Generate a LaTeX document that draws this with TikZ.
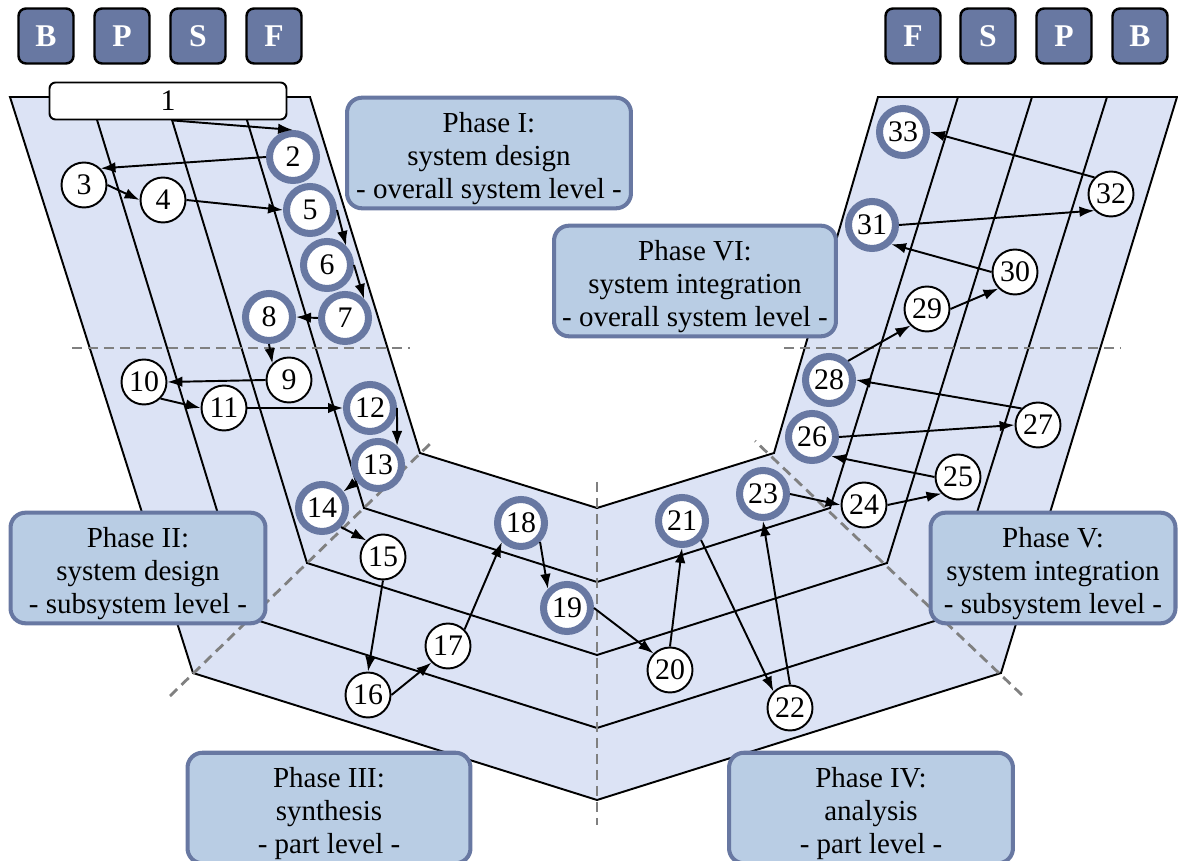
\documentclass[tikz,border=0pt]{standalone}
\usepackage{fontspec}
\setmainfont{Liberation Serif}
\usetikzlibrary{arrows.meta, calc}
\definecolor{bandfill}{RGB}{220,227,245}
\definecolor{slate}{RGB}{104,120,162}
\definecolor{phasefill}{RGB}{185,205,228}
\definecolor{dashgray}{RGB}{128,128,128}
\newcommand{\phaselines}[3]{\rule{0pt}{18pt}#1\\#2\\#3}
\tikzset{
>={Latex[length=8.5pt,width=6pt]}, % filled arrow heads
every edge/.style={draw, line width=1.1pt}, % plain black connectors
band line/.style={line width=1.1pt}, % outline and dividers of the V
phase border/.style={dashgray, line width=1.6pt, dash pattern=on 5.7pt off 3.4pt},
phase/.style={draw=slate, line width=2.3pt, fill=phasefill, rounded corners=0.3cm, align=center, minimum height=2.2cm, inner sep=2pt, font=\fontsize{16.5}{18.7}\selectfont},
column/.style={draw, line width=1.4pt, fill=slate, rounded corners=0.15cm, minimum size=1.1cm, text=white, font=\fontsize{18}{18}\selectfont\bfseries},
stepnode/.style={circle, draw, line width=1.1pt, fill=white, minimum size=0.9cm, inner sep=0pt, font=\fontsize{17}{17}\selectfont},
keystep/.style={stepnode, draw=slate, line width=4pt, minimum size=0.94cm},
startstep/.style={draw, line width=1.1pt, fill=white, rounded corners=0.12cm, minimum width=4.74cm, minimum height=0.74cm, font=\fontsize{17}{17}\selectfont},
}

\begin{document}
\begin{tikzpicture}[x=0.02cm, y=-0.02cm]
  \useasboundingbox (0,0) rectangle (1178,861);

  % The V
  \fill[bandfill] (10,97) -- (193,673) -- (597,800) -- (1001,673) -- (1177,97) -- (878,97)
    -- (774,453) -- (597,508) -- (420,453) -- (310,97) -- cycle;
  \draw[band line] (10,97) -- (193,673) -- (597,800) -- (1001,673) -- (1177,97) -- (878,97)
    -- (774,453) -- (597,508) -- (420,453) -- (310,97) -- cycle;
  \foreach \tl/\cl/\cy/\m/\cr/\tr in {90/250/618/728/944/1107, 165/307/563/655/887/1032, 240/364/508/582/830/958}
    \draw[band line] (\tl,97) -- (\cl,\cy) -- (597,\m) -- (\cr,\cy) -- (\tr,97);

  % Phase borders
  \draw[phase border] (72,348) -- (410,348);
  \draw[phase border] (784,348) -- (1120,348);
  \draw[phase border] (170,696) -- (433,441);
  \draw[phase border] (1022,695) -- (755,441);
  \draw[phase border] (597,482) -- (597,825);

  % Phases
  \node[phase, minimum width=5.68cm] (ph1) at (489,153) {\phaselines{Phase I:}{system design}{- overall system level -}};
  \node[phase, minimum width=5.10cm] (ph2) at (138,568) {\phaselines{Phase II:}{system design}{- subsystem level -}};
  \node[phase, minimum width=5.66cm] (ph3) at (329,808) {\phaselines{Phase III:}{synthesis}{- part level -}};
  \node[phase, minimum width=5.68cm] (ph4) at (871,808) {\phaselines{Phase IV:}{analysis}{- part level -}};
  \node[phase, minimum width=4.90cm] (ph5) at (1053,568) {\phaselines{Phase V:}{system integration}{- subsystem level -}};
  \node[phase, minimum width=5.64cm] (ph6) at (695,281) {\phaselines{Phase VI:}{system integration}{- overall system level -}};

  % Columns
  \node[column] (bl) at (46,36) {B};
  \node[column] (pl) at (122,36) {P};
  \node[column] (sl) at (198,36) {S};
  \node[column] (fl) at (274,36) {F};
  \node[column] (fr) at (913,36) {F};
  \node[column] (sr) at (988,36) {S};
  \node[column] (pr) at (1064,36) {P};
  \node[column] (br) at (1140,36) {B};

  % Steps
  \node[startstep] (s1) at (168,101) {1};
  \node[keystep] (s2) at (293,157) {2};
  \node[stepnode] (s3) at (84,185) {3};
  \node[stepnode] (s4) at (163,200) {4};
  \node[keystep] (s5) at (310,210) {5};
  \node[keystep] (s6) at (327,265) {6};
  \node[keystep] (s7) at (345,318) {7};
  \node[keystep] (s8) at (269,317) {8};
  \node[stepnode] (s9) at (289,380) {9};
  \node[stepnode] (s10) at (144,382) {10};
  \node[stepnode] (s11) at (224,408) {11};
  \node[keystep] (s12) at (370,408) {12};
  \node[keystep] (s13) at (378,465) {13};
  \node[keystep] (s14) at (322,508) {14};
  \node[stepnode] (s15) at (383,557) {15};
  \node[stepnode] (s16) at (368,695) {16};
  \node[stepnode] (s17) at (448,646) {17};
  \node[keystep] (s18) at (521,523) {18};
  \node[keystep] (s19) at (567,608) {19};
  \node[stepnode] (s20) at (670,670) {20};
  \node[keystep] (s21) at (682,521) {21};
  \node[stepnode] (s22) at (790,708) {22};
  \node[keystep] (s23) at (763,494) {23};
  \node[stepnode] (s24) at (864,505) {24};
  \node[stepnode] (s25) at (958,477) {25};
  \node[keystep] (s26) at (812,437) {26};
  \node[stepnode] (s27) at (1038,425) {27};
  \node[keystep] (s28) at (829,380) {28};
  \node[stepnode] (s29) at (927,309) {29};
  \node[stepnode] (s30) at (1015,272) {30};
  \node[keystep] (s31) at (872,225) {31};
  \node[stepnode] (s32) at (1111,194) {32};
  \node[keystep] (s33) at (903,132) {33};

  % Transitions
  \path[->]
    ($(s1.south)+(5,0)$) edge (s2.north)
    (s2.west) edge (s3.north east)
    (s3.east) edge (s4.west)
    (s4.east) edge (s5.west)
    (s5.east) edge (s6.north east)
    (s6.east) edge (s7.north east)
    (s7.west) edge (s8.east)
    (s8.south) edge (s9.north west)
    (s9.west) edge (s10.east)
    (s10.south east) edge (s11.west)
    (s11.east) edge (s12.west)
    (s12.east) edge (s13.north east)
    (s13) edge (s14)
    (s14.south east) edge (s15.north west)
    (s15.south) edge (s16.north)
    (s16.east) edge (s17.south west)
    (s17.north east) edge (s18.south west)
    (s18.south east) edge (s19.north west)
    (s19.east) edge (s20.north west)
    (s20.north) edge (s21.south)
    (s21.south east) edge (s22.north west)
    (s22.north) edge (s23.south)
    (s23.east) edge (s24.west)
    (s24.east) edge (s25.south west)
    (s25.west) edge (s26.south east)
    (s26.east) edge (s27.west)
    (s27.north west) edge (s28.east)
    (s28.north east) edge (s29.south west)
    (s29.east) edge (s30.south west)
    (s30.west) edge (s31.south east)
    (s31.east) edge (s32.south west)
    (s32.north west) edge (s33.east);
\end{tikzpicture}
\end{document}
